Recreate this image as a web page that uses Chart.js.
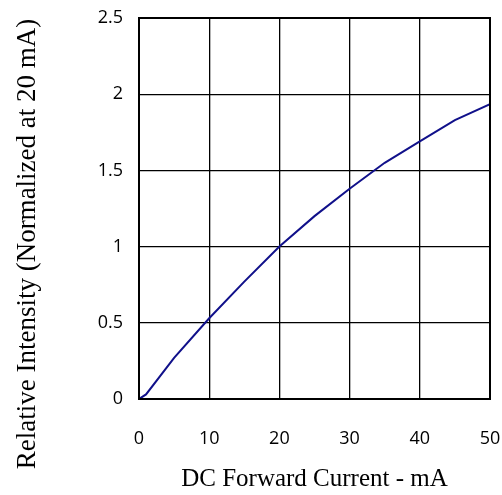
<!DOCTYPE html>
<html lang="en">
<head>
    <meta charset="UTF-8">
    <title>Relative Intensity vs DC Forward Current</title>
    <script src="https://cdn.jsdelivr.net/npm/chart.js"></script>
    <style>
        body { margin: 0; padding: 0; background: white; }
        #wrap { width: 502px; height: 495px; }
    </style>
</head>
<body>
    <div id="wrap"><canvas id="ivChart" width="502" height="495"></canvas></div>
    <script>
        // curve
        const currentMA = [0, 1, 5, 10, 15, 20, 25, 30, 35, 40, 45, 50];
        const intensity = [0, 0.03, 0.27, 0.53, 0.77, 1.0, 1.2, 1.38, 1.55, 1.69, 1.83, 1.935];
        const xTicks = [0, 10, 20, 30, 40, 50];
        const yTicks = [0, 0.5, 1, 1.5, 2, 2.5];
        const xTitle = 'DC Forward Current - mA';
        const yTitle = 'Relative Intensity (Normalized at 20 mA)';

        const points = currentMA.map((x, i) => ({ x: x, y: intensity[i] }));

        // frame around plot + rotated y title
        const framePlugin = {
            id: 'frame',
            afterDraw(chart) {
                const a = chart.chartArea, c = chart.ctx;
                c.save();
                c.strokeStyle = '#000';
                c.lineWidth = 2;
                c.strokeRect(a.left, a.top, a.right - a.left, a.bottom - a.top);
                c.translate(28, 244);
                c.rotate(-Math.PI / 2);
                c.fillStyle = '#000';
                c.font = '27px "Liberation Serif"';
                c.textAlign = 'center';
                c.textBaseline = 'middle';
                c.fillText(yTitle, 0, 0);
                c.restore();
            }
        };

        new Chart(document.getElementById('ivChart'), {
            type: 'line',
            data: {
                datasets: [{
                    data: points,
                    borderColor: '#10108a',
                    borderWidth: 2,
                    pointRadius: 0,
                    tension: 0,
                    fill: false
                }]
            },
            options: {
                responsive: false,
                animation: false,
                layout: { padding: { top: 18, right: 12, left: 0, bottom: 0 } },
                plugins: { legend: { display: false }, tooltip: { enabled: false } },
                scales: {
                    x: {
                        type: 'linear', min: 0, max: 50,
                        afterBuildTicks: s => { s.ticks = xTicks.map(v => ({ value: v })); },
                        afterFit: s => { s.height = 96; s.paddingLeft = 0; s.paddingRight = 0; },
                        grid: { color: '#000', lineWidth: 1.3, drawTicks: false },
                        border: { color: '#000', width: 2 },
                        ticks: { color: '#000', padding: 29, font: { family: 'Open Sans', size: 18 },
                                 callback: v => String(v) },
                        title: { display: true, text: xTitle, color: '#000', padding: { top: 0, bottom: 1 },
                                 font: { family: 'Liberation Serif', size: 25 } }
                    },
                    y: {
                        min: 0, max: 2.5,
                        afterBuildTicks: s => { s.ticks = yTicks.map(v => ({ value: v })); },
                        afterFit: s => { s.width = 139; s.paddingTop = 0; s.paddingBottom = 0; },
                        grid: { color: '#000', lineWidth: 1.3, drawTicks: false },
                        border: { color: '#000', width: 2 },
                        ticks: { color: '#000', padding: 16, font: { family: 'Open Sans', size: 18 },
                                 callback: v => String(v) }
                    }
                }
            },
            plugins: [framePlugin]
        });
    </script>
</body>
</html>
